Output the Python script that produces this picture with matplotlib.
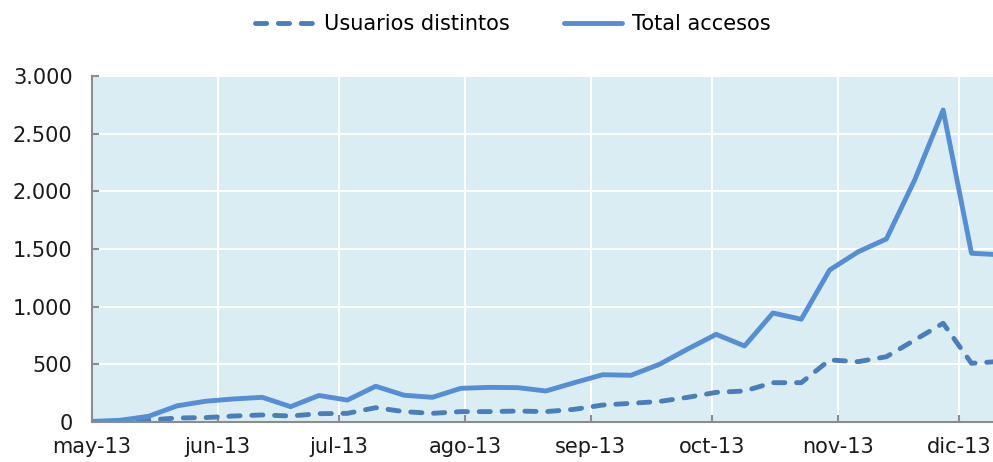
import matplotlib
matplotlib.use('Agg')
import matplotlib.pyplot as plt
from matplotlib.ticker import FuncFormatter, MultipleLocator
import pandas as pd

plt.rcParams.update({
    'font.family': 'DejaVu Sans',
    'font.size': 15,
})

# Weekly series
fechas = pd.date_range('2013-05-01', periods=33, freq='7D')
total_accesos = [5, 15, 50, 140, 180, 200, 214, 133, 230, 190, 310, 232, 214,
                 292, 300, 298, 269, 341, 410, 405, 500, 633, 760, 659, 945,
                 891, 1318, 1475, 1587, 2100, 2705, 1463, 1450]
usuarios_distintos = [0, 3, 17, 35, 38, 52, 61, 52, 72, 75, 124, 90, 75, 90,
                      90, 95, 90, 110, 147, 162, 178, 214, 257, 269, 341, 341,
                      538, 523, 566, 711, 856, 509, 525]
meses = pd.date_range('2013-05-01', periods=9, freq='MS')
etiquetas_meses = ['may-13', 'jun-13', 'jul-13', 'ago-13', 'sep-13',
                   'oct-13', 'nov-13', 'dic-13', 'ene-14']

BG = '#daedf3'
C_TOTAL = '#558ed5'
C_USERS = '#4a7ebb'
AXIS = '#8c8c8c'

W, H = 993, 462
fig = plt.figure(figsize=(W / 100, H / 100), dpi=100)
# axes deliberately runs past the right edge (reference is cropped)
ax = fig.add_axes([92 / W, 40 / H, (1085 - 92) / W, 346 / H])
ax.set_facecolor(BG)

ax.plot(fechas, usuarios_distintos, color=C_USERS, lw=3.5,
        linestyle=(0, (2.3, 2.4)), dash_capstyle='round',
        label='Usuarios distintos')
ax.plot(fechas, total_accesos, color=C_TOTAL, lw=3.5,
        solid_capstyle='round', label='Total accesos')

ax.set_ylim(0, 3000)
ax.set_xlim(meses[0], pd.Timestamp('2013-12-31'))
ax.yaxis.set_major_locator(MultipleLocator(500))
ax.yaxis.set_major_formatter(FuncFormatter(lambda v, p: f'{int(v):,}'.replace(',', '.')))
ax.set_xticks(meses)
ax.set_xticklabels(etiquetas_meses)

ax.grid(True, color='white', lw=1.5)
ax.set_axisbelow(True)
for s in ['top', 'right']:
    ax.spines[s].set_visible(False)
for s in ['left', 'bottom']:
    ax.spines[s].set_color(AXIS)
    ax.spines[s].set_linewidth(1.5)
ax.tick_params(axis='both', direction='in', color=AXIS, length=5, width=1.5,
               labelcolor='#1a1a1a')
ax.tick_params(axis='x', pad=11)
ax.tick_params(axis='y', pad=14)

h, l = ax.get_legend_handles_labels()
fig.legend(h, l, loc='center', bbox_to_anchor=(513 / W, 1 - 24 / H), ncol=2,
           frameon=False, handlelength=2.8, handletextpad=0.5,
           columnspacing=2.6, fontsize=15)

fig.savefig('out.png', dpi=100, facecolor='white')
